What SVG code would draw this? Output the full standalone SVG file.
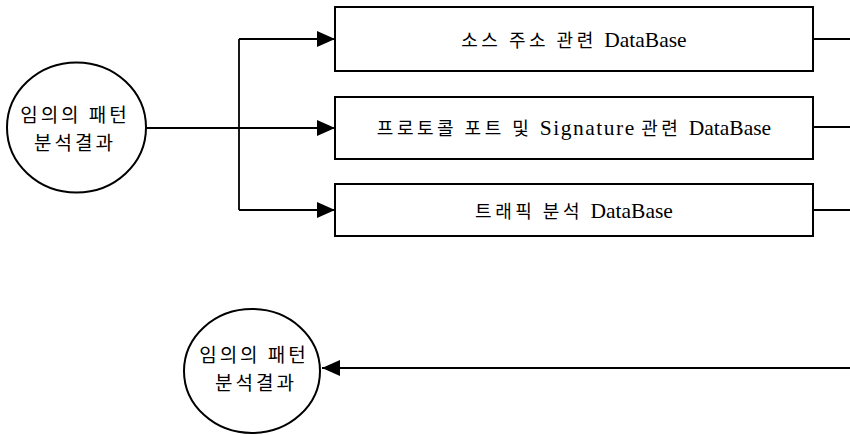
<svg xmlns="http://www.w3.org/2000/svg" width="850" height="435" viewBox="0 0 850 435">
<style>
.node{fill:#fff;stroke:#000;stroke-width:2}
.conn{fill:none;stroke:#000;stroke-width:1.8}
.ct{font-family:"Noto Sans CJK KR","Noto Sans",sans-serif;font-size:19px;letter-spacing:3px;fill:#000;text-anchor:middle}
</style>
<defs>
<marker id="arr" markerUnits="userSpaceOnUse" markerWidth="18" markerHeight="16" refX="18" refY="8" orient="auto">
<path d="M0,0 L18,8 L0,16 z" fill="#000"/>
</marker>
</defs>
<rect width="850" height="435" fill="#fff"/>
<g id="connectors">
<path class="conn" d="M146,128 H239"/>
<path class="conn" d="M239,39 V210"/>
<path class="conn" d="M239,39 H335" marker-end="url(#arr)"/>
<path class="conn" d="M239,128 H335" marker-end="url(#arr)"/>
<path class="conn" d="M239,210 H335" marker-end="url(#arr)"/>
<path class="conn" d="M813,39 H850"/>
<path class="conn" d="M813,127 H850"/>
<path class="conn" d="M813,210 H850"/>
<path class="conn" d="M850,368 H322" marker-end="url(#arr)"/>
</g>
<g id="circle-top">
<ellipse class="node" cx="76.5" cy="127.5" rx="69.5" ry="65"/>
<text class="ct" x="75" y="122">임의의 패턴</text>
<text class="ct" x="75" y="150">분석결과</text>
</g>
<g id="box-source">
<rect class="node" x="335" y="7" width="478" height="64"/>
<text x="574" y="47" text-anchor="middle" fill="#000"><tspan font-family="Noto Sans CJK KR, sans-serif" font-size="18" letter-spacing="3.5">소스 주소 관련 </tspan><tspan font-family="Liberation Serif, Times New Roman, serif" font-size="21.5">DataBase</tspan></text>
</g>
<g id="box-protocol">
<rect class="node" x="335" y="97" width="478" height="62"/>
<text x="574" y="135" text-anchor="middle" fill="#000"><tspan font-family="Noto Sans CJK KR, sans-serif" font-size="18" letter-spacing="3.5">프로토콜 포트 및 </tspan><tspan font-family="Liberation Serif, Times New Roman, serif" font-size="21.5" letter-spacing="1.5">Signature</tspan><tspan font-family="Liberation Serif, Times New Roman, serif" font-size="21.5"> </tspan><tspan font-family="Noto Sans CJK KR, sans-serif" font-size="18" letter-spacing="3.5">관련 </tspan><tspan font-family="Liberation Serif, Times New Roman, serif" font-size="21.5">DataBase</tspan></text>
</g>
<g id="box-traffic">
<rect class="node" x="335" y="184" width="478" height="52"/>
<text x="574" y="218" text-anchor="middle" fill="#000"><tspan font-family="Noto Sans CJK KR, sans-serif" font-size="18" letter-spacing="3.5">트래픽 분석 </tspan><tspan font-family="Liberation Serif, Times New Roman, serif" font-size="21.5">DataBase</tspan></text>
</g>
<g id="circle-bottom">
<ellipse class="node" cx="252" cy="371" rx="68" ry="62"/>
<text class="ct" x="254" y="362">임의의 패턴</text>
<text class="ct" x="256" y="390">분석결과</text>
</g>
</svg>
